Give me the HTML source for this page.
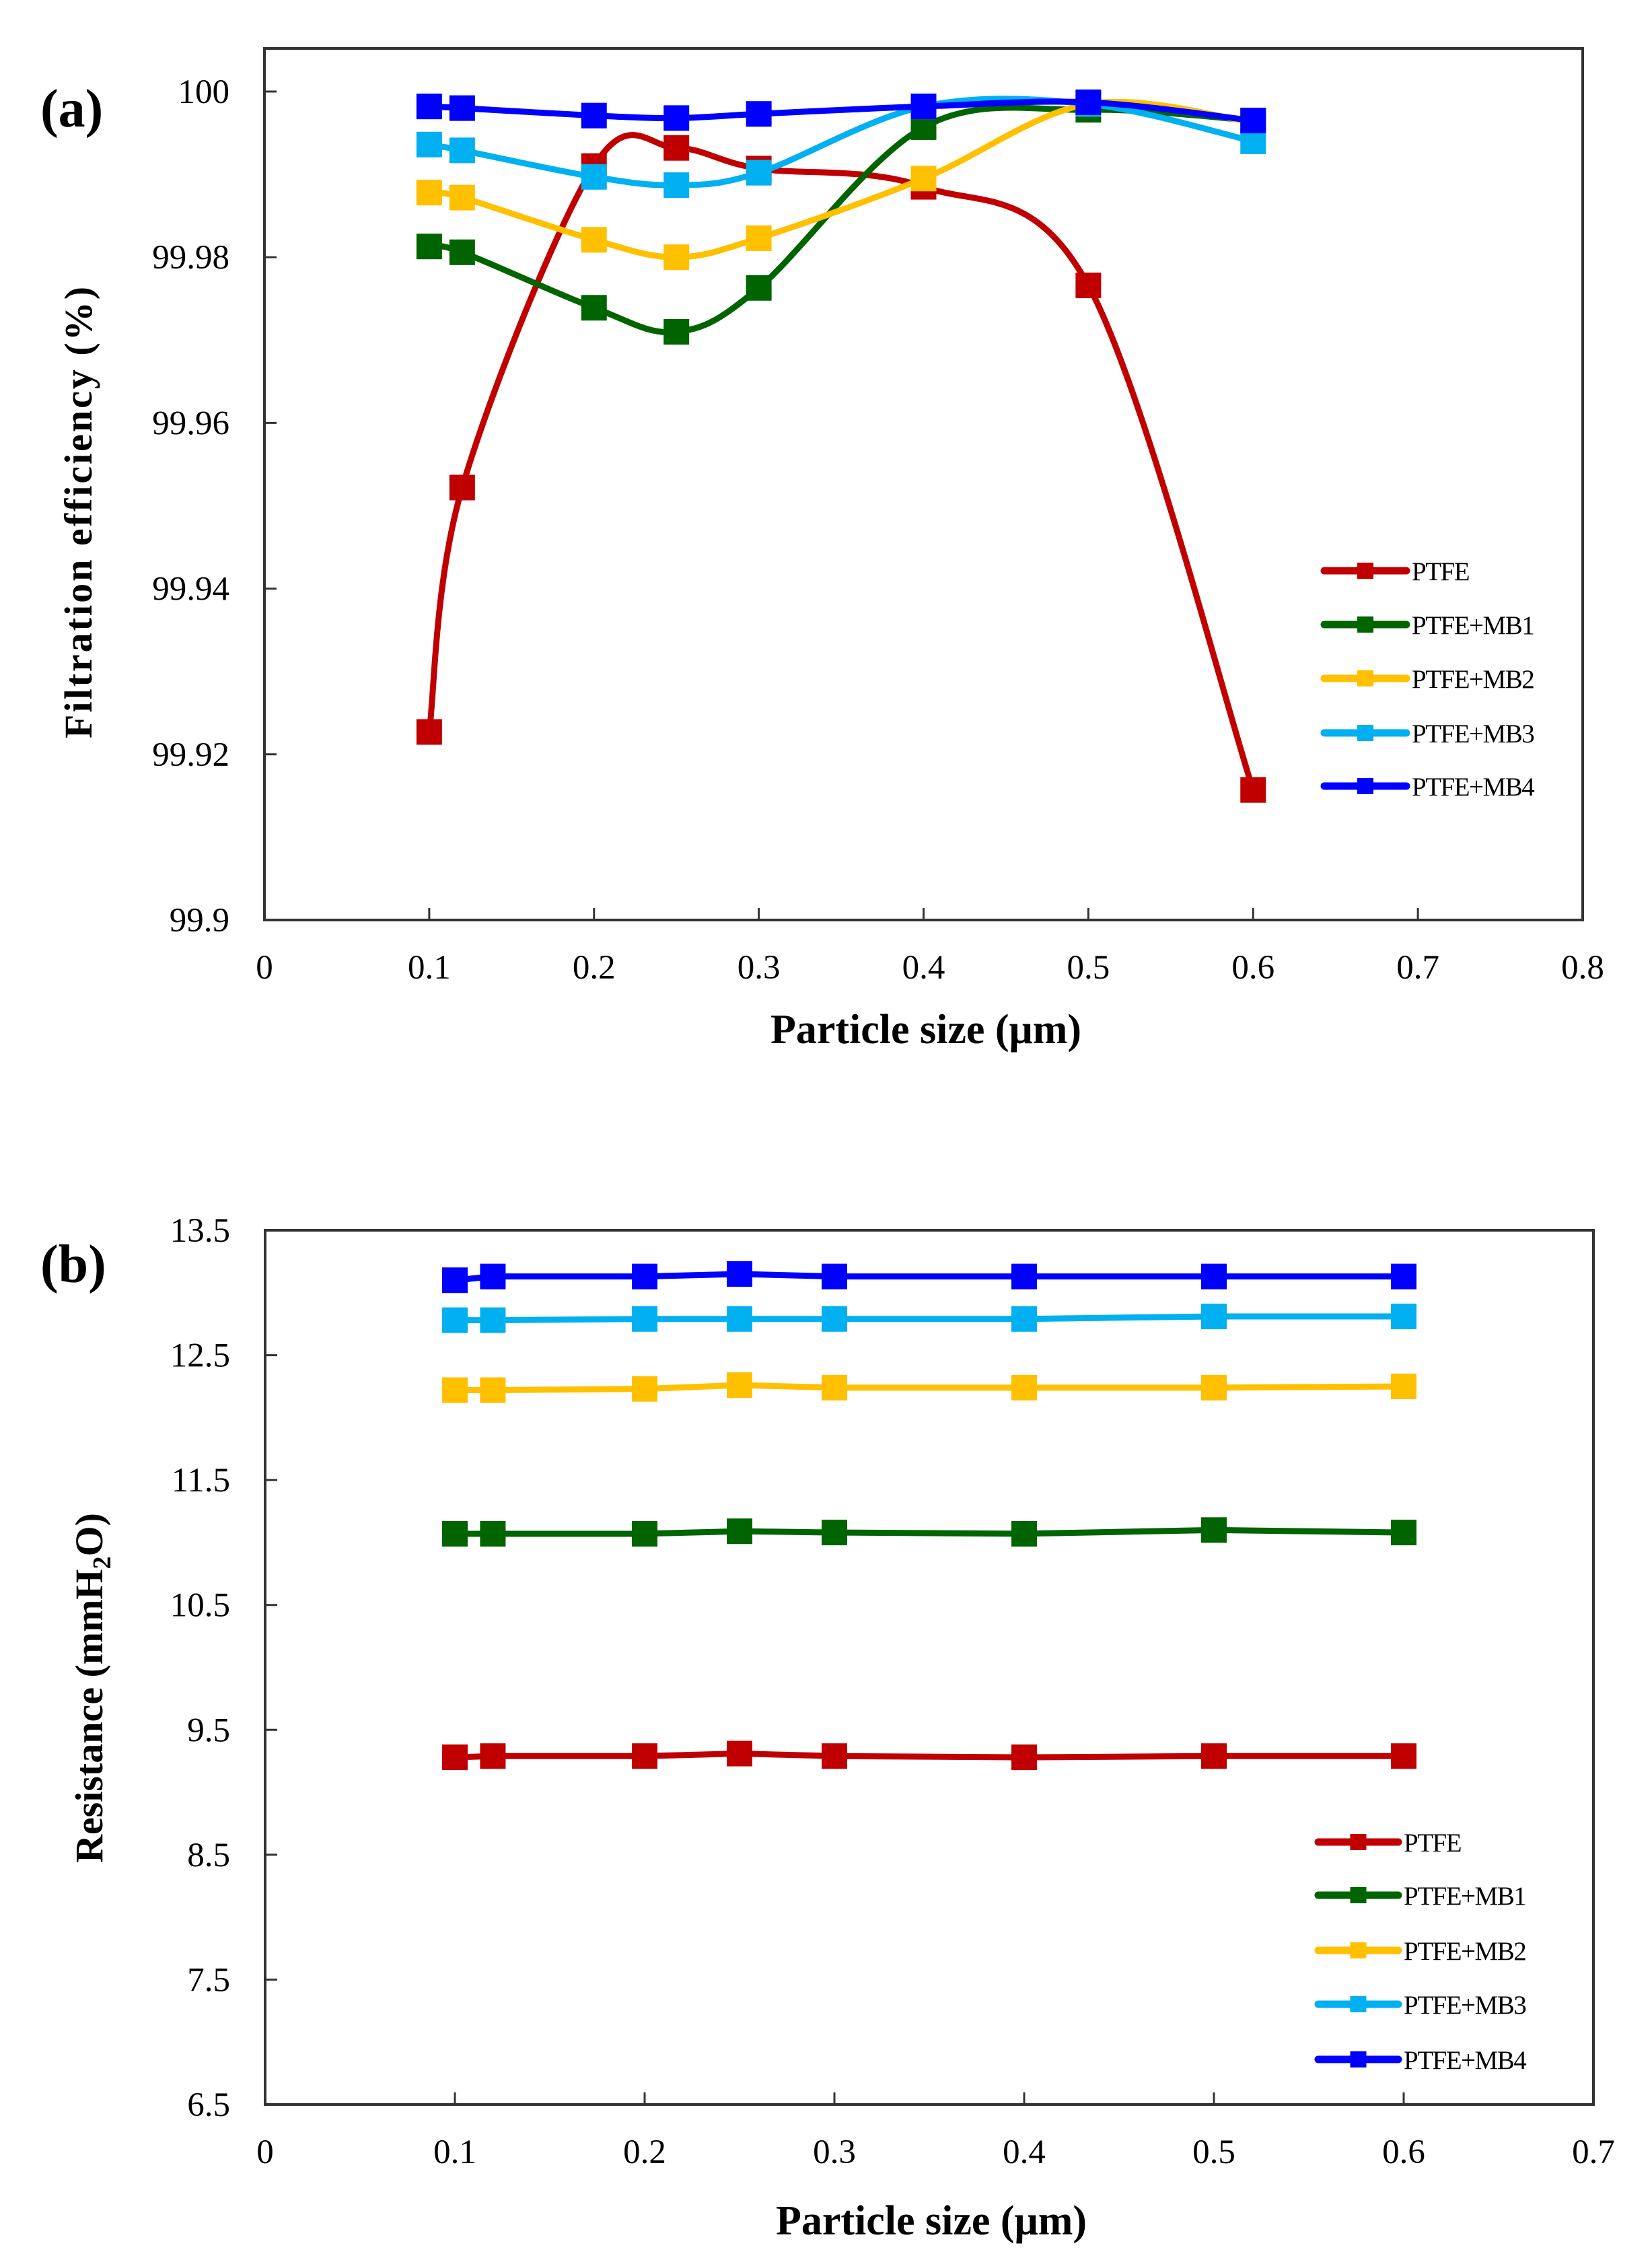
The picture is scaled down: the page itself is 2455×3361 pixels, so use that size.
<!DOCTYPE html>
<html><head><meta charset="utf-8"><style>
html,body{margin:0;padding:0;background:#fff;}
svg{display:block}
text{font-family:"Liberation Serif",serif;fill:#000}
</style></head><body>
<svg id="s" width="2455" height="3361" viewBox="0 0 2455 3361" xmlns="http://www.w3.org/2000/svg">
<rect width="2455" height="3361" fill="#fff"/>
<g id="g"></g>
<text x="60" y="188" font-size="80" font-weight="bold">(a)</text>
<text x="60" y="1905" font-size="80" font-weight="bold">(b)</text>
<text transform="translate(136,760) rotate(-90)" text-anchor="middle" font-size="58" font-weight="bold" letter-spacing="3">Filtration efficiency (%)</text>
<text transform="translate(152,2508) rotate(-90)" text-anchor="middle" font-size="58" font-weight="bold">Resistance (mmH<tspan font-size="38" dy="12">2</tspan><tspan dy="-12">O)</tspan></text>
<text x="1376" y="1550" text-anchor="middle" font-size="62" font-weight="bold">Particle size (μm)</text>
<text x="1384" y="3320" text-anchor="middle" font-size="62" font-weight="bold">Particle size (μm)</text>
</svg>
<script>
var NS="http://www.w3.org/2000/svg",g=document.getElementById('g');
function el(t,a,txt){var e=document.createElementNS(NS,t);for(var k in a)e.setAttribute(k,a[k]);if(txt!=null)e.textContent=txt;g.appendChild(e);return e;}
var cols=["#C00000","#006400","#FFC000","#00B0F0","#0000FF"];
var names=["PTFE","PTFE+MB1","PTFE+MB2","PTFE+MB3","PTFE+MB4"];
var xs=[0.1,0.12,0.2,0.25,0.3,0.4,0.5,0.6];
function chart(c){
  var X=function(v){return c.l+(v-c.x0)/(c.x1-c.x0)*(c.r-c.l)};
  var Y=function(v){return c.b-(v-c.y0)/(c.y1-c.y0)*(c.b-c.t)};
  el('rect',{x:c.l,y:c.t,width:c.r-c.l,height:c.b-c.t,fill:'none',stroke:'#333','stroke-width':4});
  c.yt.forEach(function(v){var y=Y(v);el('line',{x1:c.l,y1:y,x2:c.l+18,y2:y,stroke:'#333','stroke-width':3});
    el('text',{x:c.l-52,y:y+17,'text-anchor':'end','font-size':51},c.yf(v));});
  c.xt.forEach(function(v){var x=X(v);el('line',{x1:x,y1:c.b,x2:x,y2:c.b-18,stroke:'#333','stroke-width':3});
    el('text',{x:x,y:c.b+87,'text-anchor':'middle','font-size':51},String(v));});
  c.data.forEach(function(d,i){
    var p=d.map(function(v,j){return [X(xs[j]),Y(v)]});
    var s='M'+p[0][0]+','+p[0][1];
    for(var j=0;j<p.length-1;j++){
      if(c.smooth){var p0=p[Math.max(j-1,0)],p1=p[j],p2=p[j+1],p3=p[Math.min(j+2,p.length-1)];
        s+=' C'+(p1[0]+(p2[0]-p0[0])/6)+','+(p1[1]+(p2[1]-p0[1])/6)+' '+(p2[0]-(p3[0]-p1[0])/6)+','+(p2[1]-(p3[1]-p1[1])/6)+' '+p2[0]+','+p2[1];}
      else s+=' L'+p[j+1][0]+','+p[j+1][1];
    }
    el('path',{d:s,fill:'none',stroke:cols[i],'stroke-width':9,'stroke-linejoin':'round'});
    p.forEach(function(q){el('rect',{x:q[0]-19,y:q[1]-19,width:38,height:38,fill:cols[i]});});
  });
  c.leg.forEach(function(y,i){
    el('line',{x1:c.lx1,y1:y,x2:c.lx2,y2:y,stroke:cols[i],'stroke-width':11,'stroke-linecap':'round'});
    var m=(c.lx1+c.lx2)/2;el('rect',{x:m-12,y:y-12,width:24,height:24,fill:cols[i]});
    el('text',{x:c.lx2+8,y:y+14,'font-size':39,'letter-spacing':-1.5},names[i]);
  });
}
chart({l:393,r:2352,t:72,b:1367,x0:0,x1:0.8,y0:99.9,y1:100.0052,smooth:true,
 yt:[99.9,99.92,99.94,99.96,99.98,100],yf:function(v){return v==100?"100":(v==99.9?"99.9":v.toFixed(2))},
 xt:[0,0.1,0.2,0.3,0.4,0.5,0.6,0.7,0.8],
 data:[[99.9227,99.9522,99.991,99.9932,99.9907,99.9885,99.9766,99.9157],
 [99.9813,99.9806,99.9739,99.9710,99.9763,99.9957,99.9978,99.9965],
 [99.9878,99.9872,99.9821,99.9800,99.9823,99.9895,99.9985,99.9963],
 [99.9936,99.9929,99.9897,99.9887,99.9902,99.9982,99.9985,99.9940],
 [99.9982,99.9980,99.9971,99.9968,99.9973,99.9982,99.9987,99.9965]],
 leg:[848,928,1008,1089,1168],lx1:1968,lx2:2090});
chart({l:394,r:2368,t:1828,b:3127,x0:0,x1:0.7,y0:6.5,y1:13.5,smooth:false,
 yt:[6.5,7.5,8.5,9.5,10.5,11.5,12.5,13.5],yf:function(v){return v.toFixed(1)},
 xt:[0,0.1,0.2,0.3,0.4,0.5,0.6,0.7],
 data:[[9.28,9.29,9.29,9.31,9.29,9.28,9.29,9.29],
 [11.07,11.07,11.07,11.09,11.08,11.07,11.10,11.08],
 [12.22,12.22,12.23,12.26,12.24,12.24,12.24,12.25],
 [12.78,12.78,12.79,12.79,12.79,12.79,12.81,12.81],
 [13.10,13.13,13.13,13.15,13.13,13.13,13.13,13.13]],
 leg:[2737,2816,2898,2978,3060],lx1:1959,lx2:2078});
</script>
</body></html>
